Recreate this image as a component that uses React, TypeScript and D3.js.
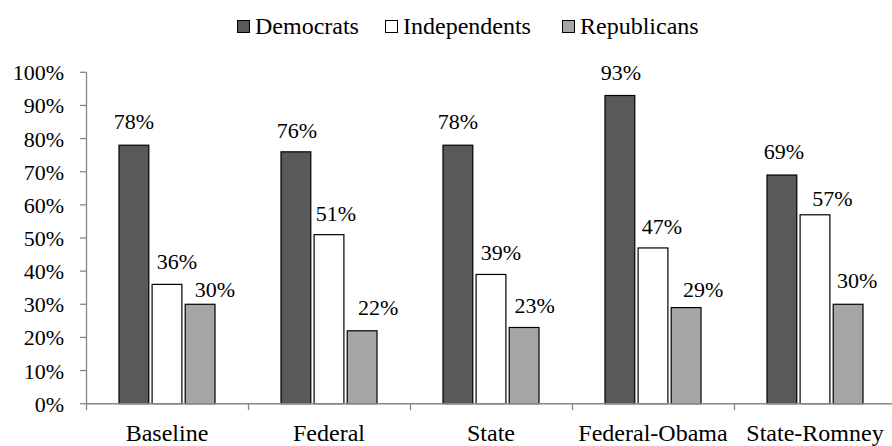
import React from "react";
import * as d3 from "d3";

const categories = ["Baseline", "Federal", "State", "Federal-Obama", "State-Romney"];
const seriesNames = ["Democrats", "Independents", "Republicans"];
const democrats = [78, 76, 78, 93, 69];
const independents = [36, 51, 39, 47, 57];
const republicans = [30, 22, 23, 29, 30];
const yTicks = [0, 10, 20, 30, 40, 50, 60, 70, 80, 90, 100];
const colors = ["#595959", "#ffffff", "#a6a6a6"];

// data label placement (horizontal shift from bar centre, gap above bar top), per series
const labelDx = [
  [0, 1, 0, 1, 2],
  [10, 7, 10, 9, 17.5],
  [14.7, 16, 10.5, 17, 9],
];
const labelGap = [
  [16, 14, 16, 15, 15.7],
  [15, 14, 14.3, 14.4, 9.3],
  [7.3, 16, 14.5, 11, 16.6],
];

const W = 892;
const H = 446;
const FONT = "Liberation Serif, Times New Roman, DejaVu Serif, serif";

export default function App() {
  const series = [democrats, independents, republicans];
  const y = d3.scaleLinear().domain([0, 100]).range([403.7, 72.3]);
  const x = d3.scaleBand<string>().domain(categories).range([86, 896]).paddingInner(0).paddingOuter(0);
  const inner = d3.scaleBand<string>().domain(seriesNames).range([-48, 48]).paddingInner(0.1);
  const bw = inner.bandwidth();
  const axisColor = "#888888";
  const legendX = [237, 385, 562];
  const small: React.CSSProperties = { fontFamily: FONT, fontSize: "22px" };
  const big: React.CSSProperties = { fontFamily: FONT, fontSize: "24px" };

  return (
    <div style={{ position: "fixed", left: 0, top: 0, width: W, height: H, background: "#fff" }}>
      <svg width={W} height={H} style={{ display: "block", fontFamily: FONT }}>
        {/* legend */}
        {seriesNames.map((s, i) => (
          <g key={s}>
            <rect x={legendX[i] + 0.5} y={20.5} width={12} height={12} fill={colors[i]} stroke="#000" strokeWidth={1} />
            <text x={legendX[i] + 18} y={34.3} style={big} fill="#000">{s}</text>
          </g>
        ))}
        {/* y axis */}
        <line x1={86.5} x2={86.5} y1={y(100)} y2={y(0)} stroke={axisColor} strokeWidth={1.3} />
        {yTicks.map((t) => (
          <g key={t}>
            <line x1={80} x2={86.5} y1={y(t)} y2={y(t)} stroke={axisColor} strokeWidth={1.3} />
            <text x={64} y={y(t) + 8} style={small} textAnchor="end" fill="#000">{t + "%"}</text>
          </g>
        ))}
        {/* bars */}
        {categories.map((c, ci) => {
          const cx = (x(c) as number) + x.bandwidth() / 2;
          return (
            <g key={c}>
              {seriesNames.map((s, si) => {
                const v = series[si][ci];
                const bx = cx + (inner(s) as number);
                return (
                  <g key={s}>
                    <rect x={bx} y={y(v)} width={bw} height={y(0) - y(v)} fill={colors[si]} stroke="#000" strokeWidth={1.2} />
                    <text
                      x={bx + bw / 2 + labelDx[si][ci]}
                      y={y(v) - labelGap[si][ci]}
                      style={small}
                      textAnchor="middle"
                      fill="#000"
                    >
                      {v + "%"}
                    </text>
                  </g>
                );
              })}
              <text x={cx} y={440.5} style={big} textAnchor="middle" fill="#000">{c}</text>
            </g>
          );
        })}
        {/* x axis */}
        <line x1={86} x2={W} y1={y(0)} y2={y(0)} stroke={axisColor} strokeWidth={1.5} />
        {categories.map((c) => (
          <line key={c} x1={(x(c) as number) + 0.5} x2={(x(c) as number) + 0.5} y1={y(0)} y2={y(0) + 6.5} stroke={axisColor} strokeWidth={1.3} />
        ))}
      </svg>
    </div>
  );
}
